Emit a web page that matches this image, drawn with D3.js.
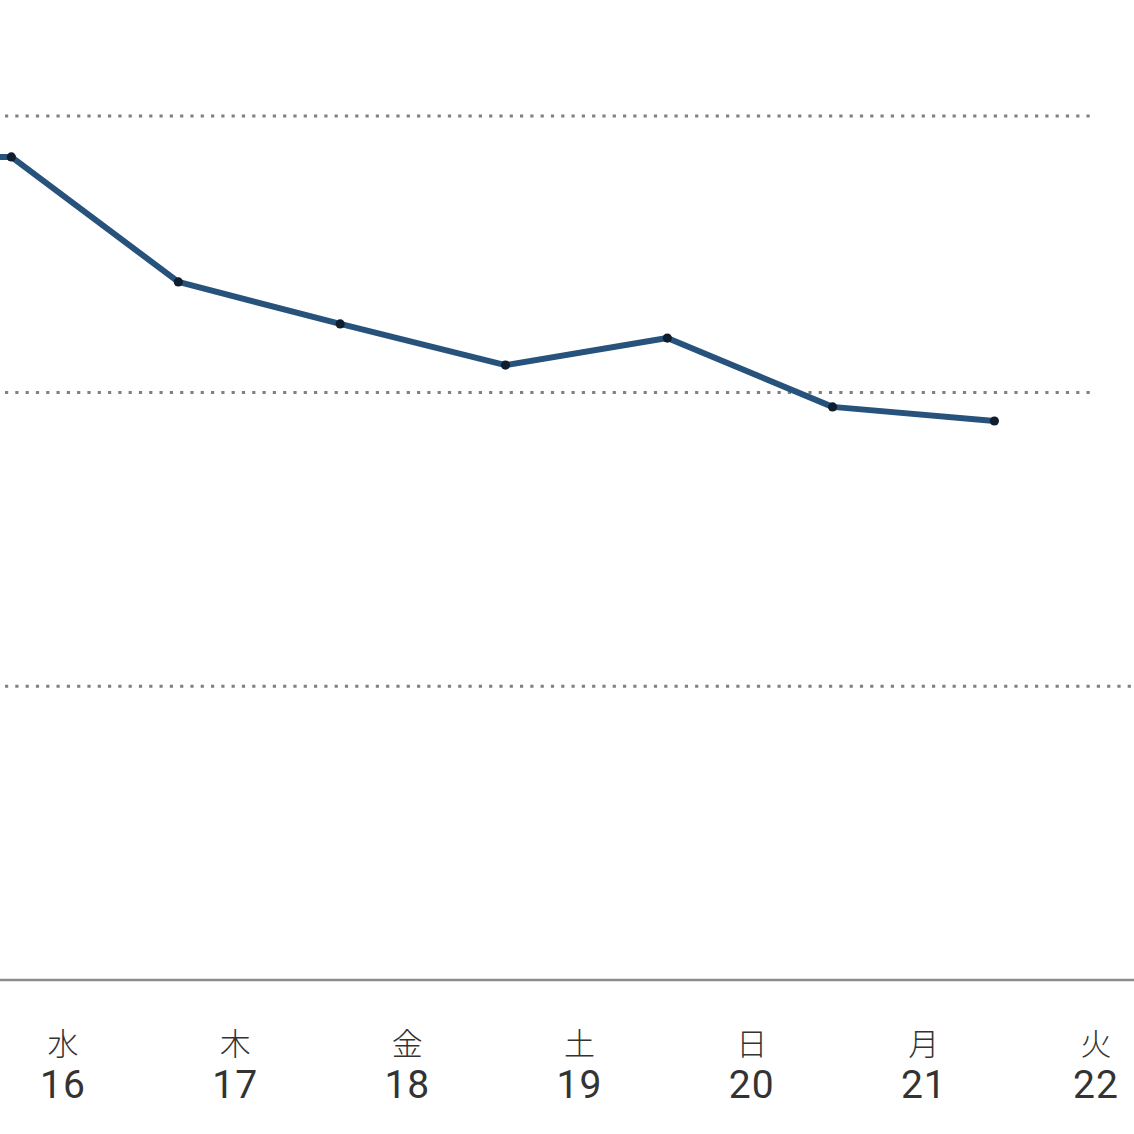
<!DOCTYPE html>
<html><head><meta charset="utf-8">
<script src="https://cdn.jsdelivr.net/npm/d3@7"></script>
<style>html,body{margin:0;padding:0;background:#fff;overflow:hidden}</style>
</head><body>
<script>
// Data (day-of-month positions)
const dayTicks = [16, 17, 18, 19, 20, 21, 22];
const weekdayLabels = ["水", "木", "金", "土", "日", "月", "火"];
const pointDays = [15.0, 15.70, 16.67, 17.61, 18.57, 19.51, 20.47, 21.41];
const pointValues = [285.8, 285.8, 242.4, 227.8, 213.5, 222.9, 199.0, 194.1];
const showMarker = [false, true, true, true, true, true, true, true];
const gridValues = [300, 204, 102];
const gridEnds = [1092, 1092, 1134];

const W = 1134, H = 1134;
const svg = d3.select("body").append("svg").attr("width", W).attr("height", H);

const x = d3.scaleLinear().domain([16, 22]).range([63, 1096]);
const y = d3.scaleLinear().domain([0, 300]).range([980, 116]);

// gridlines
svg.append("g").selectAll("line").data(gridValues).join("line")
  .attr("x1", 5).attr("x2", (d, i) => gridEnds[i])
  .attr("y1", d => y(d)).attr("y2", d => y(d))
  .attr("stroke", "#808080").attr("stroke-width", 3.2)
  .attr("stroke-dasharray", "3.2,7.1");

// baseline
svg.append("line").attr("x1", 0).attr("x2", W)
  .attr("y1", y(0)).attr("y2", y(0))
  .attr("stroke", "#8c8c8c").attr("stroke-width", 2.5);

// line
const pts = pointDays.map((d, i) => ({d, v: pointValues[i], m: showMarker[i]}));
svg.append("path").datum(pts)
  .attr("d", d3.line().x(p => x(p.d)).y(p => y(p.v)))
  .attr("fill", "none").attr("stroke", "#26527c").attr("stroke-width", 6)
  .attr("stroke-linejoin", "round");

svg.append("g").selectAll("circle").data(pts.filter(p => p.m)).join("circle")
  .attr("cx", p => x(p.d)).attr("cy", p => y(p.v)).attr("r", 4.6)
  .attr("fill", "#0f1e2f");

// x labels
const lab = svg.append("g").selectAll("g").data(dayTicks).join("g")
  .attr("transform", d => `translate(${x(d)},0)`);
lab.append("text").text((d, i) => weekdayLabels[i])
  .attr("y", 1055).attr("text-anchor", "middle")
  .attr("font-family", "'Noto Sans CJK JP', sans-serif").attr("font-size", 31)
  .attr("font-weight", 300)
  .attr("fill", "#333");
lab.append("text").text(d => d)
  .attr("y", 1098).attr("text-anchor", "middle")
  .attr("font-family", "Roboto, 'Noto Sans', sans-serif").attr("font-size", 39)
  .attr("letter-spacing", 1)
  .attr("fill", "#333");
</script>
</body></html>
